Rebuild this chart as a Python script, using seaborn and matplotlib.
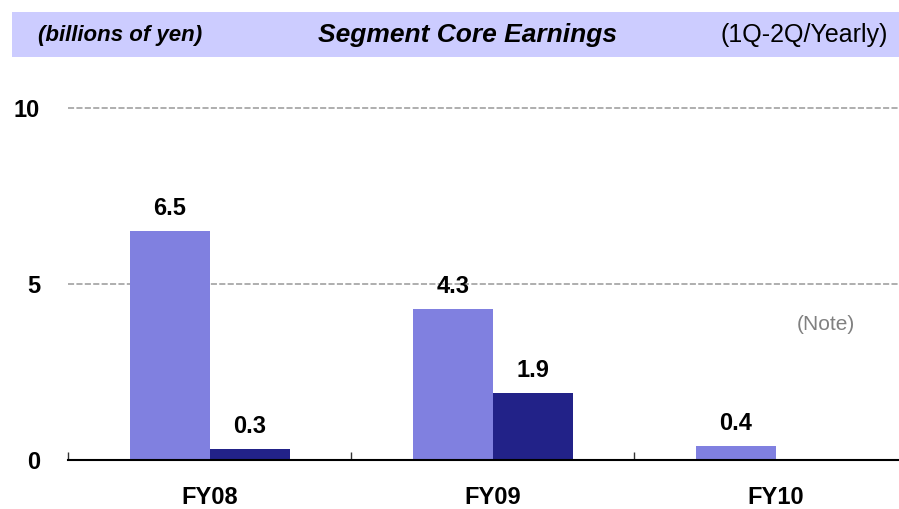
import numpy as np
import pandas as pd
import seaborn as sns
import matplotlib.pyplot as plt
from matplotlib.patches import Rectangle

# chart values
years = ["FY08", "FY09", "FY10"]
series = ["1Q-2Q", "Yearly"]
half_values = [6.5, 4.3, 0.4]
yearly_values = [0.3, 1.9, np.nan]
y_ticks = [0, 5, 10]

df = pd.DataFrame({
    "year": years * 2,
    "series": [series[0]] * 3 + [series[1]] * 3,
    "value": half_values + yearly_values,
})

sns.set_style("white")
plt.rcParams["font.family"] = ["Liberation Sans", "DejaVu Sans"]
plt.rcParams["text.color"] = "black"
plt.rcParams["xtick.color"] = "black"
plt.rcParams["ytick.color"] = "black"

fig = plt.figure(figsize=(8.99, 5.09), dpi=100)

# header band
fig.patches.append(Rectangle((12 / 899, 1 - 57 / 509), 1 - 12 / 899, 45 / 509,
                             transform=fig.transFigure, facecolor="#CCCCFF",
                             edgecolor="none", zorder=0))
fig.text(38 / 899, 1 - 35 / 509, "(billions of yen)", fontsize=16, fontweight="bold",
         fontstyle="italic", ha="left", va="center")
fig.text(467 / 899, 1 - 35 / 509, "Segment Core Earnings", fontsize=19, fontweight="bold",
         fontstyle="italic", ha="center", va="center")
fig.text(888 / 899, 1 - 35 / 509, "(1Q-2Q/Yearly)", fontsize=18,
         ha="right", va="center")

ax = fig.add_axes([68 / 899, 49 / 509, 1 - 68 / 899, 0.7261])
sns.barplot(data=df, x="year", y="value", hue="series", order=years, hue_order=series,
            palette=["#8080E0", "#222288"], saturation=1, width=0.565, gap=0,
            linewidth=0, legend=False, ax=ax)

ax.set_xlim(-0.5, 2.435)
ax.set_ylim(0, 10.5)
ax.set_yticks(y_ticks)
ax.set_yticklabels([str(t) for t in y_ticks], fontsize=17, fontweight="bold")
ax.set_xticks(range(len(years)))
ax.set_xticklabels(years, fontsize=17, fontweight="bold")
ax.set_xticks([-0.5, 0.5, 1.5], minor=True)
ax.tick_params(axis="y", length=0, pad=20)
ax.tick_params(axis="x", which="major", length=0, pad=19)
ax.tick_params(axis="x", which="minor", bottom=True, direction="in", length=6,
               width=1, color="#333333")
ax.set_xlabel("")
ax.set_ylabel("")

for s in ["top", "right", "left"]:
    ax.spines[s].set_visible(False)
ax.spines["bottom"].set_linewidth(1.5)
ax.spines["bottom"].set_color("black")

ax.set_axisbelow(True)
ax.yaxis.grid(True, color="#999999", linestyle=(0, (4, 1.5)), linewidth=1.1)

for cont in ax.containers:
    for bar in cont:
        h = bar.get_height()
        if np.isnan(h):
            continue
        ax.annotate(f"{h:.1f}", (bar.get_x() + bar.get_width() / 2, h),
                    xytext=(0, 8), textcoords="offset points", ha="center",
                    va="bottom", fontsize=17, fontweight="bold")

ax.text(826 / 899, 1 - 325 / 509, "(Note)", transform=fig.transFigure, fontsize=15,
        color="#808080", ha="center", va="center")

fig.savefig("out.png", dpi=100)
